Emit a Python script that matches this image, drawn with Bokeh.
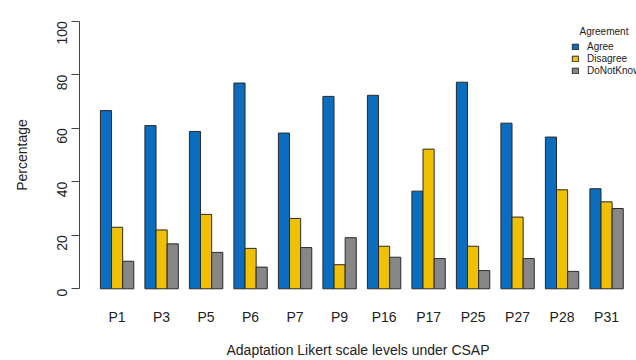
import math
from bokeh.plotting import figure
from bokeh.models import ColumnDataSource, FixedTicker, Legend, LegendItem, Label, Range1d
from bokeh.embed import file_html
from bokeh.resources import INLINE

categories = ["P1", "P3", "P5", "P6", "P7", "P9", "P16", "P17", "P25", "P27", "P28", "P31"]
agree = [66.6, 61.0, 58.8, 76.9, 58.2, 71.9, 72.3, 36.5, 77.2, 61.9, 56.7, 37.4]
disagree = [23.0, 22.0, 27.8, 15.1, 26.3, 9.0, 15.9, 52.2, 15.9, 26.8, 37.0, 32.5]
donotknow = [10.3, 16.8, 13.6, 8.1, 15.4, 19.1, 11.8, 11.3, 6.8, 11.3, 6.5, 30.0]
series_names = ["Agree", "Disagree", "DoNotKnow"]
series_colors = ["#0A6DBE", "#F0C005", "#878787"]
y_ticks = [0, 20, 40, 60, 80, 100]

FONT = "Liberation Sans"

p = figure(
    width=636, height=360,
    min_border_left=79, min_border_right=0, min_border_top=10, min_border_bottom=61,
    x_range=Range1d(-0.88, 49.19), y_range=Range1d(-4, 104),
    output_backend="svg", toolbar_location=None,
)
p.outline_line_color = None
p.xgrid.visible = False
p.ygrid.visible = False
p.background_fill_color = "white"
p.border_fill_color = "white"

renderers = []
for j, (name, vals, col) in enumerate(zip(series_names, [agree, disagree, donotknow], series_colors)):
    xs = [1.5 + 4 * i + j for i in range(len(categories))]
    src = ColumnDataSource(dict(x=xs, top=vals))
    r = p.vbar(x="x", top="top", bottom=0, width=1, source=src,
               fill_color=col, line_color="#2a2a2a", line_width=1)
    renderers.append(r)

# x axis
centers = [2.5 + 4 * i for i in range(len(categories))]
p.xaxis.ticker = FixedTicker(ticks=centers)
p.xaxis.major_label_overrides = {c: lab for c, lab in zip(centers, categories)}
p.xaxis.axis_line_color = None
p.xaxis.major_tick_line_color = None
p.xaxis.minor_tick_line_color = None
p.xaxis.major_tick_out = 0
p.xaxis.major_label_standoff = 9
p.xaxis.major_label_text_font = FONT
p.xaxis.major_label_text_font_size = "14px"
p.xaxis.major_label_text_color = "#222222"
p.xaxis.axis_label = "Adaptation Likert scale levels under CSAP"
p.xaxis.axis_label_text_font = FONT
p.xaxis.axis_label_text_font_size = "14px"
p.xaxis.axis_label_text_font_style = "normal"
p.xaxis.axis_label_text_color = "#222222"
p.xaxis.axis_label_standoff = 14

# y axis
p.yaxis.ticker = FixedTicker(ticks=y_ticks)
p.yaxis.bounds = (0, 100)
p.yaxis.axis_line_color = "#444444"
p.yaxis.major_tick_line_color = "#444444"
p.yaxis.minor_tick_line_color = None
p.yaxis.major_tick_out = 8
p.yaxis.major_tick_in = 0
p.yaxis.major_label_orientation = math.pi / 2
p.yaxis.major_label_standoff = 9
p.yaxis.major_label_text_font = FONT
p.yaxis.major_label_text_font_size = "14px"
p.yaxis.major_label_text_color = "#222222"
p.yaxis.axis_label = "Percentage"
p.yaxis.axis_label_text_font = FONT
p.yaxis.axis_label_text_font_size = "14px"
p.yaxis.axis_label_text_font_style = "normal"
p.yaxis.axis_label_text_color = "#222222"
p.yaxis.axis_label_standoff = 20

legend = Legend(
    items=[LegendItem(label=n, renderers=[r]) for n, r in zip(series_names, renderers)],
    location=(492, 223),
    padding=0, margin=0, spacing=0,
    glyph_width=8, glyph_height=7, label_height=12, label_standoff=8,
    label_text_font=FONT, label_text_font_size="10px", label_text_color="#222222",
    label_text_align="left",
    background_fill_alpha=0, border_line_color=None,
)
p.add_layout(legend, "center")

p.add_layout(Label(x=500, y=268.5, x_units="screen", y_units="screen", text="Agreement",
                   text_font=FONT, text_font_size="10px", text_color="#222222",
                   text_baseline="middle"))

open("out.html", "w").write(file_html(p, INLINE))
